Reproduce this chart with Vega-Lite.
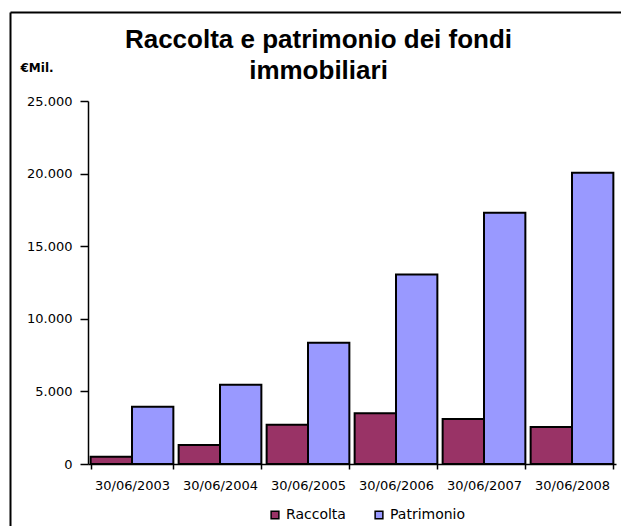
{
  "$schema": "https://vega.github.io/schema/vega-lite/v6.json",
  "width": 611,
  "height": 514,
  "autosize": "none",
  "padding": {"left": 10, "top": 12, "right": 0, "bottom": 0},
  "background": "white",
  "view": {"stroke": "transparent", "strokeWidth": 0, "fill": "white"},
  "title": {
    "text": ["Raccolta e patrimonio dei fondi", "immobiliari"],
    "font": "Liberation Sans",
    "fontSize": 26,
    "fontWeight": "bold",
    "color": "black",
    "lineHeight": 31,
    "anchor": "middle",
    "frame": "group",
    "offset": -72,
    "dx": 3
  },
  "data": {
    "values": [
      {"data": "30/06/2003", "serie": "Raccolta", "valore": 500},
      {"data": "30/06/2003", "serie": "Patrimonio", "valore": 3950},
      {"data": "30/06/2004", "serie": "Raccolta", "valore": 1300},
      {"data": "30/06/2004", "serie": "Patrimonio", "valore": 5450},
      {"data": "30/06/2005", "serie": "Raccolta", "valore": 2700},
      {"data": "30/06/2005", "serie": "Patrimonio", "valore": 8350},
      {"data": "30/06/2006", "serie": "Raccolta", "valore": 3500},
      {"data": "30/06/2006", "serie": "Patrimonio", "valore": 13050},
      {"data": "30/06/2007", "serie": "Raccolta", "valore": 3100},
      {"data": "30/06/2007", "serie": "Patrimonio", "valore": 17300},
      {"data": "30/06/2008", "serie": "Raccolta", "valore": 2550},
      {"data": "30/06/2008", "serie": "Patrimonio", "valore": 20050}
    ]
  },
  "layer": [
    {
      "mark": {"type": "bar", "stroke": "black", "strokeWidth": 2},
      "encoding": {
        "x": {
          "field": "data",
          "type": "nominal",
          "sort": null,
          "scale": {"range": [78, 606], "paddingInner": 0.06, "paddingOuter": 0.03},
          "axis": {
            "orient": "bottom",
            "title": null,
            "labelAngle": 0,
            "tickBand": "extent",
            "offset": -62,
            "tickSize": 5,
            "labelPadding": 10,
            "labelFont": "DejaVu Sans",
            "labelFontSize": 13,
            "labelColor": "black",
            "domainColor": "black",
            "domainWidth": 1.5,
            "tickColor": "black",
            "tickWidth": 1.5,
            "grid": false
          }
        },
        "xOffset": {
          "field": "serie",
          "type": "nominal",
          "sort": ["Raccolta", "Patrimonio"],
          "scale": {"paddingInner": 0, "paddingOuter": 0}
        },
        "y": {
          "field": "valore",
          "type": "quantitative",
          "scale": {"domain": [0, 25000], "range": [452, 89], "nice": false},
          "axis": {
            "orient": "left",
            "title": "€Mil.",
            "titleAngle": 0,
            "titleX": -68,
            "titleY": 55,
            "titleAlign": "left",
            "titleBaseline": "middle",
            "titleFont": "DejaVu Sans",
            "titleFontSize": 12,
            "titleFontWeight": "bold",
            "titleColor": "black",
            "offset": -78,
            "values": [0, 5000, 10000, 15000, 20000, 25000],
            "labelExpr": "replace(format(datum.value, ','), ',', '.')",
            "tickSize": 8,
            "labelPadding": 8,
            "labelFont": "DejaVu Sans",
            "labelFontSize": 13,
            "labelColor": "black",
            "domainColor": "black",
            "domainWidth": 1.5,
            "tickColor": "black",
            "tickWidth": 1.5,
            "grid": false
          }
        },
        "color": {
          "field": "serie",
          "type": "nominal",
          "scale": {"domain": ["Raccolta", "Patrimonio"], "range": ["#993366", "#9999FF"]},
          "legend": {
            "title": null,
            "orient": "none",
            "legendX": 258,
            "legendY": 496,
            "direction": "horizontal",
            "symbolType": "square",
            "symbolSize": 60,
            "symbolStrokeColor": "black",
            "symbolStrokeWidth": 1.5,
            "labelFont": "DejaVu Sans",
            "labelFontSize": 14,
            "labelColor": "black",
            "labelOffset": 4,
            "columnPadding": 26,
            "padding": 0
          }
        }
      }
    },
    {
      "mark": {"type": "point", "opacity": 0},
      "encoding": {
        "x": {
          "field": "valore",
          "type": "quantitative",
          "scale": {"domain": [0, 25000], "range": [0, 611], "nice": false},
          "axis": {
            "orient": "top",
            "title": null,
            "labels": false,
            "ticks": false,
            "grid": false,
            "values": [],
            "offset": 0,
            "domainColor": "black",
            "domainWidth": 2
          }
        },
        "y": {
          "field": "valore",
          "type": "quantitative",
          "scale": {"domain": [0, 25000], "range": [514, 0], "nice": false},
          "axis": {
            "orient": "left",
            "title": null,
            "labels": false,
            "ticks": false,
            "grid": false,
            "values": [],
            "offset": 0,
            "domainColor": "black",
            "domainWidth": 2
          }
        }
      }
    }
  ],
  "resolve": {
    "scale": {"x": "independent", "y": "independent"},
    "axis": {"x": "independent", "y": "independent"}
  },
  "config": {
    "view": {"stroke": "transparent", "strokeWidth": 0, "fill": "white"}
  }
}
